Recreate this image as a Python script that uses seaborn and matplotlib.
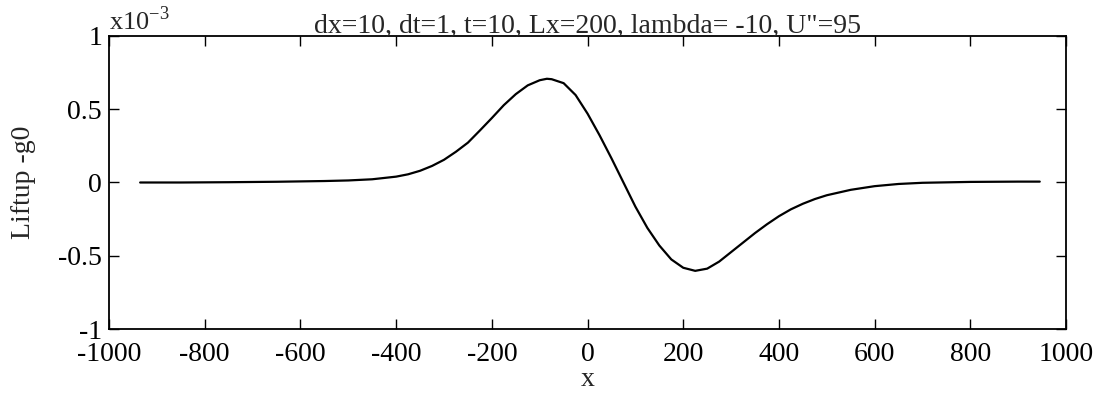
import matplotlib
matplotlib.use("Agg")
import matplotlib.pyplot as plt
import seaborn as sns
import pandas as pd

# Liftup - g0 (in units of 1e-3)
x_vals = [-935, -850, -750, -650, -550, -500, -450, -400, -375, -350, -325, -300,
          -275, -250, -225, -200, -175, -150, -125, -100, -85, -75, -50, -25,
          0, 25, 50, 75, 100, 125, 150, 175, 200, 225, 250, 275, 300, 325, 350,
          375, 400, 425, 450, 475, 500, 550, 600, 650, 700, 800, 900, 945]
y_vals = [0.0, 0.0, 0.002, 0.005, 0.01, 0.014, 0.022, 0.04, 0.056, 0.08, 0.113, 0.155,
          0.21, 0.272, 0.355, 0.44, 0.528, 0.603, 0.663, 0.698, 0.708, 0.705, 0.678, 0.597,
          0.47, 0.323, 0.165, 0.0, -0.165, -0.31, -0.43, -0.525, -0.582, -0.603, -0.588, -0.54, -0.475, -0.41, -0.345,
          -0.285, -0.23, -0.183, -0.145, -0.113, -0.087, -0.05, -0.025, -0.01, -0.002, 0.004, 0.006, 0.006]

x_ticks = [-1000, -800, -600, -400, -200, 0, 200, 400, 600, 800, 1000]
y_ticks = [-1, -0.5, 0, 0.5, 1]
y_ticklabels = ["-1", "-0.5", "0", "0.5", "1"]
title = 'dx=10, dt=1, t=10, Lx=200, lambda= -10, U"=95'
xlabel = "x"
ylabel = "Liftup -g0"

sns.set_style("ticks")
plt.rcParams["font.family"] = ["Liberation Serif", "DejaVu Serif"]
plt.rcParams["axes.unicode_minus"] = False

df = pd.DataFrame({"x": x_vals, "y": y_vals})

fig = plt.figure(figsize=(10.97, 4.08), dpi=100)
ax = fig.add_axes([0.0994, 0.1936, 0.8724, 0.7182])
sns.lineplot(data=df, x="x", y="y", ax=ax, color="black", linewidth=1.6)

ax.set_xlim(-1000, 1000)
ax.set_ylim(-1, 1)
ax.set_xticks(x_ticks)
ax.set_xticklabels([str(t) for t in x_ticks])
ax.set_yticks(y_ticks)
ax.set_yticklabels(y_ticklabels)
ax.tick_params(direction="in", length=7, width=1, top=True, right=True,
               labelsize=20, colors="black")
ax.tick_params(axis="x", pad=9)
ax.tick_params(axis="y", pad=5)
for s in ax.spines.values():
    s.set_linewidth(1.3)
    s.set_color("black")

ax.set_xlabel(xlabel, fontsize=20, labelpad=0)
ax.set_ylabel(ylabel, fontsize=20, labelpad=16)
ax.set_title(title, fontsize=20, pad=2)
ax.text(0.0, 1.005, r"x10$^{\mathregular{-3}}$", transform=ax.transAxes,
        fontsize=19, ha="left", va="bottom")

fig.savefig("out.png", dpi=100, facecolor="white")
